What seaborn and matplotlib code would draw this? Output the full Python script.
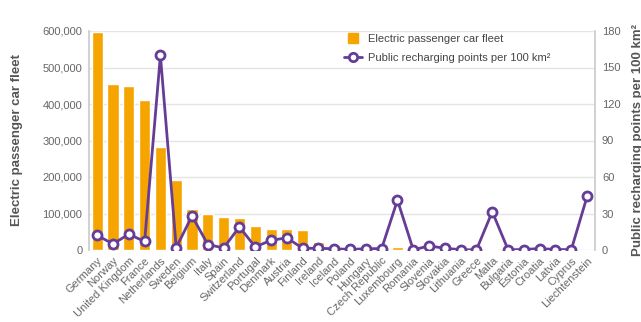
import matplotlib
matplotlib.use("Agg")
import matplotlib.pyplot as plt
from matplotlib.lines import Line2D
from matplotlib.ticker import FuncFormatter
import seaborn as sns
import pandas as pd

countries = [
    "Germany", "Norway", "United Kingdom", "France", "Netherlands", "Sweden",
    "Belgium", "Italy", "Spain", "Switzerland", "Portugal", "Denmark",
    "Austria", "Finland", "Ireland", "Iceland", "Poland", "Hungary",
    "Czech Republic", "Luxembourg", "Romania", "Slovenia", "Slovakia",
    "Lithuania", "Greece", "Malta", "Bulgaria", "Estonia", "Croatia",
    "Latvia", "Cyprus", "Liechtenstein",
]
car_fleet = [
    598000, 456000, 450000, 412000, 281000, 192000,
    111000, 100000, 90000, 87000, 65000, 58000,
    58000, 55000, 22000, 15000, 10000, 8000,
    7000, 7000, 6000, 5000, 4000, 3000,
    3000, 2000, 1500, 1500, 1000, 1000,
    500, 500,
]
charging_points = [
    12, 5, 13, 7, 160, 2,
    28, 4.5, 1.7, 19, 2.5, 8,
    10, 1.4, 1.4, 1, 0.5, 1,
    1.2, 41, 0.2, 3.3, 1.5, 0.2,
    0.2, 31.5, 0.2, 0.4, 1.2, 0.4,
    0.3, 44,
]
left_ticks = [0, 100000, 200000, 300000, 400000, 500000, 600000]
right_ticks = [0, 30, 60, 90, 120, 150, 180]

df = pd.DataFrame({"country": countries, "fleet": car_fleet,
                   "points": charging_points})

ORANGE = "#f6a400"
PURPLE = "#663d96"
GREY_TXT = "#666666"
GREY_LBL = "#555555"
AXIS_C = "#cccccc"
GRID_C = "#e4e4e4"
FS = 8

sns.set_theme(style="white")
plt.rcParams["font.family"] = ["Liberation Sans", "DejaVu Sans"]

fig = plt.figure(figsize=(6.41, 3.22), dpi=100)
ax = fig.add_axes([89.3 / 641, 1 - 250 / 322, (595 - 89.3) / 641, (250 - 31) / 322])

sns.barplot(data=df, x="country", y="fleet", order=countries, color=ORANGE,
            saturation=1, width=0.7, ax=ax, zorder=2)
ax.set_ylim(0, 600000)
ax.set_xlim(-0.5, len(countries) - 0.5)
ax.set_yticks(left_ticks)
ax.yaxis.set_major_formatter(FuncFormatter(lambda v, p: f"{int(v):,}"))
ax.set_axisbelow(True)
ax.grid(axis="y", color=GRID_C, linewidth=1.0)
ax.set_xlabel("")
ax.set_ylabel("")

ax2 = ax.twinx()
sns.pointplot(data=df, x="country", y="points", order=countries, color=PURPLE,
              markers="o", linestyles="-", ax=ax2, markersize=6.5,
              markerfacecolor="white", markeredgewidth=2, linewidth=2)
ax2.set_ylim(0, 180)
ax2.set_xlim(-0.5, len(countries) - 0.5)
ax2.set_yticks(right_ticks)
ax2.set_xlabel("")
ax2.set_ylabel("")
ax2.grid(False)

for a in (ax, ax2):
    for s in a.spines.values():
        s.set_visible(False)
    a.tick_params(axis="both", length=0, labelsize=FS, labelcolor=GREY_TXT)
ax.spines["left"].set_visible(True)
ax.spines["left"].set_color(AXIS_C)
ax2.spines["right"].set_visible(True)
ax2.spines["right"].set_color(AXIS_C)
ax.tick_params(axis="y", pad=5)
ax2.tick_params(axis="y", pad=5)

ax.set_xticks(range(len(countries)))
ax.set_xticklabels(countries, rotation=45, ha="right", rotation_mode="anchor",
                   fontsize=FS, color=GREY_TXT)
ax.tick_params(axis="x", pad=4)

fig.text(16.7 / 641, 1 - 140 / 322, "Electric passenger car fleet", rotation=90,
         ha="center", va="center", fontsize=9.5, fontweight="bold",
         color=GREY_LBL)
fig.text(638 / 641, 1 - 140 / 322, "Public recharging points per 100 km²",
         rotation=90, ha="center", va="center", fontsize=9.5,
         fontweight="bold", color=GREY_LBL)

handles = [
    Line2D([0], [0], color=ORANGE, linestyle="none", marker="s",
           markersize=7.5),
    Line2D([0], [0], color=PURPLE, linewidth=2, marker="o", markersize=6,
           markerfacecolor="white", markeredgewidth=2),
]
ax2.legend(handles, ["Electric passenger car fleet",
                     "Public recharging points per 100 km²"],
           loc="upper left", bbox_to_anchor=(342 / 641, 1 - 32 / 322),
           bbox_transform=fig.transFigure, frameon=False, fontsize=FS,
           labelcolor="#444444", handlelength=1.6, handletextpad=0.5,
           borderaxespad=0, borderpad=0.2, labelspacing=0.75)

fig.savefig("out.png", dpi=100)
